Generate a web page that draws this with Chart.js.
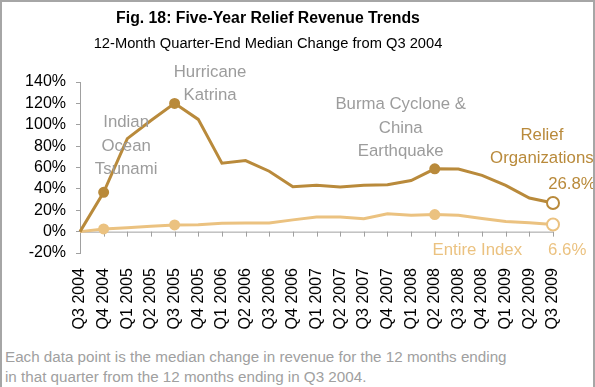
<!DOCTYPE html>
<html>
<head>
<meta charset="utf-8">
<script src="https://cdn.jsdelivr.net/npm/chart.js@4.4.1/dist/chart.umd.min.js"></script>
<style>
  body { margin: 0; background: #fff; }
  #frame {
    position: absolute; left: 0; top: 0;
    width: 595px; height: 400px;
    box-sizing: border-box;
    border: 2px solid #a6a6a6;
    font-family: "Liberation Sans", Arial, sans-serif;
  }
  #box { position: relative; width: 591px; height: 338px; }
  .head {
    position: absolute; left: 0; width: 532px;
    text-align: center; line-height: 24px; color: #000;
  }
  #title { top: 4px; font-size: 15.8px; font-weight: bold; }
  #subtitle { top: 29px; font-size: 14.7px; }
  #note {
    position: absolute; left: 3px; top: 345px;
    font-size: 15.2px; line-height: 20px; color: #a0a0a0;
  }
</style>
</head>
<body>
<div id="frame">
  <div id="box"><canvas id="myChart"></canvas></div>
  <div class="head" id="title">Fig. 18: Five-Year Relief Revenue Trends</div>
  <div class="head" id="subtitle">12-Month Quarter-End Median Change from Q3 2004</div>
  <div id="note">Each data point is the median change in revenue for the 12 months ending<br>in that quarter from the 12 months ending in Q3 2004.</div>
</div>
<script>
const quarters = ['Q3 2004', 'Q4 2004', 'Q1 2005', 'Q2 2005', 'Q3 2005', 'Q4 2005', 'Q1 2006',
  'Q2 2006', 'Q3 2006', 'Q4 2006', 'Q1 2007', 'Q2 2007', 'Q3 2007', 'Q4 2007', 'Q1 2008',
  'Q2 2008', 'Q3 2008', 'Q4 2008', 'Q1 2009', 'Q2 2009', 'Q3 2009'];
const reliefOrgs = [0, 36.8, 87, 104, 120, 105, 64, 66.5, 56.5, 42, 43.5, 41.8, 43.3, 43.8, 47.8,
  58.8, 58.5, 52.6, 43.2, 31.5, 26.8];
const entireIndex = [0, 2.5, 3.6, 5, 6.3, 6.5, 7.8, 8, 8, 11, 13.6, 13.6, 12, 16.8, 15.3,
  16, 15.3, 12.3, 9.4, 8.2, 6.6];
const yTicks = [-20, 0, 20, 40, 60, 80, 100, 120, 140];

// quarters that get a marker, last one is drawn hollow
const eventIdx = [1, 4, 15];
const lastIdx = quarters.length - 1;

const dark = '#b98a3b';
const light = '#ebc280';
const grey = '#9c9c9c';
const axisGrey = '#a0a0a0';
const FONT = '"Liberation Sans", Arial, sans-serif';

const notes = [
  { x: 5.5, y: 149, lines: ['Hurricane', 'Katrina'], color: grey },
  { x: 1.95, y: 101.8, lines: ['Indian', 'Ocean', 'Tsunami'], color: grey },
  { x: 13.56, y: 118.7, lines: ['Burma Cyclone &', 'China', 'Earthquake'], color: grey },
  { x: 19.53, y: 90.4, lines: ['Relief', 'Organizations'], color: dark },
  { x: 20.8, y: 44.5, lines: ['26.8%'], color: dark },
  { x: 16.8, y: -17.5, lines: ['Entire Index'], color: light },
  { x: 20.6, y: -17.5, lines: ['6.6%'], color: light }
];

function markers(size, lastSize) {
  return quarters.map((q, i) => i === lastIdx ? lastSize : (eventIdx.includes(i) ? size : 0));
}
function fills(color) {
  return quarters.map((q, i) => i === lastIdx ? '#ffffff' : color);
}

// zero line with small tick marks under each quarter, plus the text notes
const extras = {
  id: 'extras',
  beforeDatasetsDraw(chart) {
    const { ctx, scales: { x, y } } = chart;
    const y0 = y.getPixelForValue(0);
    ctx.save();
    ctx.strokeStyle = axisGrey;
    ctx.lineWidth = 1;
    ctx.beginPath();
    ctx.moveTo(x.getPixelForValue(0), y0 + 0.5);
    ctx.lineTo(x.getPixelForValue(lastIdx), y0 + 0.5);
    quarters.forEach((q, i) => {
      const px = Math.round(x.getPixelForValue(i)) + 0.5;
      ctx.moveTo(px, y0);
      ctx.lineTo(px, y0 + 5);
    });
    ctx.stroke();
    ctx.restore();
  },
  afterDraw(chart) {
    const { ctx, scales: { x, y } } = chart;
    ctx.save();
    ctx.font = '16.8px ' + FONT;
    ctx.textAlign = 'center';
    ctx.textBaseline = 'middle';
    notes.forEach(n => {
      const px = x.getPixelForValue(n.x);
      const py = y.getPixelForValue(n.y);
      ctx.fillStyle = n.color;
      n.lines.forEach((t, k) => ctx.fillText(t, px, py + k * 23.3));
    });
    ctx.restore();
  }
};

const ctx = document.getElementById('myChart');

new Chart(ctx, {
  type: 'line',
  data: {
    labels: quarters,
    datasets: [{
      label: 'Relief Organizations',
      data: reliefOrgs,
      borderColor: dark,
      borderWidth: 3,
      pointRadius: markers(4.5, 6),
      pointBackgroundColor: fills(dark),
      pointBorderColor: dark,
      pointBorderWidth: 2,
      tension: 0
    }, {
      label: 'Entire Index',
      data: entireIndex,
      borderColor: light,
      borderWidth: 3,
      pointRadius: markers(4.5, 6),
      pointBackgroundColor: fills(light),
      pointBorderColor: light,
      pointBorderWidth: 2,
      tension: 0
    }]
  },
  options: {
    responsive: true,
    maintainAspectRatio: false,
    animation: false,
    events: [],
    layout: { padding: { top: 80, right: 40, bottom: 0, left: 0 } },
    plugins: {
      legend: { display: false },
      tooltip: { enabled: false },
      title: { display: false }
    },
    scales: {
      x: {
        offset: false,
        grid: { display: false, drawTicks: false },
        border: { display: false },
        ticks: {
          color: '#000',
          font: { family: FONT, size: 16 },
          minRotation: 90,
          maxRotation: 90,
          autoSkip: false,
          padding: 15
        },
        afterFit(scale) { scale.height = 87; }
      },
      y: {
        min: -20,
        max: 140,
        afterBuildTicks(scale) { scale.ticks = yTicks.map(v => ({ value: v })); },
        grid: { display: true, drawOnChartArea: false, drawTicks: true, tickLength: 4, color: axisGrey },
        border: { display: true, color: axisGrey, width: 1 },
        ticks: {
          color: '#000',
          font: { family: FONT, size: 16 },
          padding: 10,
          autoSkip: false,
          callback: v => v + '%'
        },
        afterFit(scale) { scale.width = 78; }
      }
    }
  },
  plugins: [extras]
});
</script>
</body>
</html>
